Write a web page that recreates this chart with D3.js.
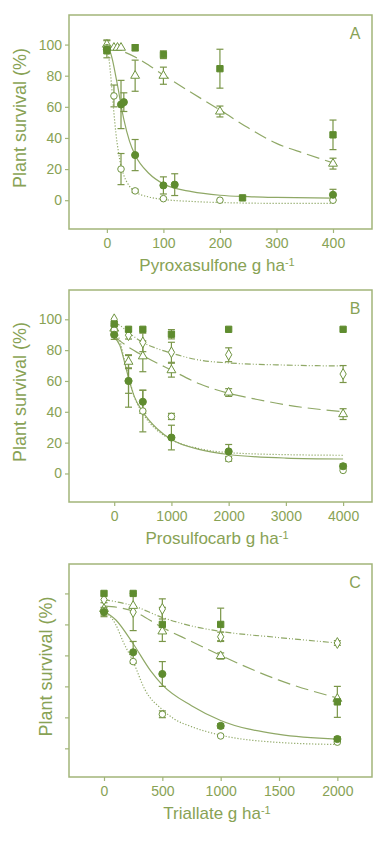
<!DOCTYPE html>
<html>
<head>
<meta charset="utf-8">
<script src="https://cdnjs.cloudflare.com/ajax/libs/d3/7.8.5/d3.min.js"></script>
<style>
  body { margin: 0; background: #fff; }
  text { font-family: "Liberation Sans", Arial, sans-serif; }
</style>
</head>
<body>
<div id="chart"></div>
<script>
// ---- data: [dose, survival %, error] ----
// Panel A - pyroxasulfone
const aFilledCircle = [[0, 97, 5.5], [25, 61.5, 15.5], [30, 63, 6], [50, 29, 10], [100, 9.5, 5.5], [120, 10, 7], [400, 3.5, 3.5]];
const aOpenCircle = [[0, 98, 0], [12.5, 67, 7], [25, 20, 10], [50, 6, 1], [100, 1, 0.5], [200, 0, 0], [400, 0, 0]];
const aOpenTriangle = [[0, 100, 3], [12.5, 98, 0], [18.75, 98, 0], [25, 98, 0], [50, 80, 10], [100, 80, 5.5], [200, 57, 3.5], [400, 23.5, 3.5]];
const aFilledSquare = [[0, 96, 0], [50, 98, 2], [100, 93.5, 2.5], [200, 84.5, 12.5], [240, 1.5, 0], [400, 42, 9.5]];
// fitted curves: [dose, survival %]
const aCurveSolid = [[0, 98], [5, 96], [10, 90], [15, 81], [20, 71.5], [25, 61], [30, 52], [40, 38], [50, 29], [75, 17], [100, 10.5], [150, 5.5], [200, 3.2], [250, 2.3], [300, 1.8], [400, 1.3]];
const aCurveDotted = [[0, 98], [4, 90], [8, 75], [12, 58], [16, 43], [20, 32], [25, 22], [30, 16], [40, 9], [50, 5.5], [75, 2], [100, 0.5], [150, -0.8], [200, -1.5], [300, -2], [400, -2]];
const aCurveDashed = [[0, 98], [25, 96], [50, 92], [75, 86.5], [100, 80.5], [150, 69], [200, 58], [250, 46.5], [300, 36.5], [350, 30], [400, 24]];

// Panel B - prosulfocarb
const bFilledCircle = [[0, 90, 3], [250, 60, 17], [500, 46.5, 7.5], [1000, 23.3, 8], [2000, 14.3, 4.5], [4000, 4.7, 1.5]];
const bOpenCircle = [[0, 93, 3], [250, 60, 8], [500, 40.5, 13.5], [1000, 37, 2], [2000, 9.5, 1.5], [4000, 2, 0]];
const bOpenTriangle = [[0, 94, 3], [250, 72.5, 4], [500, 76, 10], [1000, 67, 4.5], [2000, 52.5, 2.5], [4000, 38.5, 3.5]];
const bFilledSquare = [[0, 97, 0], [250, 93.5, 0], [500, 93.5, 0], [1000, 90.3, 3], [2000, 93.5, 0], [4000, 93.5, 0]];
const bOpenDiamond = [[0, 100, 0], [250, 89.7, 2.5], [500, 85, 6], [1000, 78.6, 6.5], [2000, 77, 4.5], [4000, 64.5, 5.5]];
const bCurveSolid = [[0, 88], [100, 83], [175, 73], [250, 62], [350, 50], [500, 40], [750, 29], [1000, 22], [1500, 15.5], [2000, 12.3], [3000, 10], [4000, 9.4]];
const bCurveDotted = [[0, 93], [100, 86], [175, 74], [250, 63], [350, 50], [500, 39], [750, 28], [1000, 22], [1500, 16], [2000, 13.5], [3000, 12.2], [4000, 11.8]];
const bCurveDashed = [[0, 89], [100, 86], [250, 82], [500, 76.5], [1000, 67], [1500, 58], [2000, 52], [2500, 48], [3000, 44.5], [4000, 40]];
const bCurveDashDot = [[0, 98], [100, 96], [250, 91.5], [500, 85], [750, 81], [1000, 78], [1500, 73.5], [2000, 71.7], [3000, 70.3], [4000, 69.7]];

// Panel C - triallate
const cFilledCircle = [[0, 88, 3], [250, 62, 7], [500, 48, 8], [1000, 14.5, 1.5], [2000, 6, 1.5]];
const cOpenCircle = [[0, 89, 0], [250, 56, 0], [500, 22, 2.2], [1000, 8, 0], [2000, 4, 0]];
const cOpenTriangle = [[0, 90, 4], [250, 92, 0], [500, 75.5, 0], [1000, 59.6, 2], [2000, 32, 0]];
const cFilledSquare = [[0, 100, 0], [250, 100, 0], [500, 80, 11], [1000, 80, 10.5], [2000, 30, 10]];
const cOpenDiamond = [[0, 96, 0], [250, 88, 12], [500, 90, 6.5], [1000, 72, 3], [2000, 68, 1.5]];
const cCurveSolid = [[0, 88.5], [100, 83], [250, 67.5], [400, 50], [500, 41], [750, 27.5], [1000, 18], [1500, 9], [2000, 6]];
const cCurveDotted = [[0, 89], [100, 80], [166, 68.5], [250, 56], [350, 38], [500, 25], [600, 19], [750, 14], [1000, 8.5], [1500, 3.8], [2000, 2.5]];
const cCurveDashed = [[0, 92], [250, 88.5], [500, 78], [750, 69], [1000, 60], [1500, 44], [2000, 32.5]];
const cCurveDashDot = [[0, 96], [250, 92], [500, 84.5], [750, 79], [1000, 75.5], [1500, 71.5], [2000, 68]];

const yTicks = [0, 20, 40, 60, 80, 100];
const xTicksA = [0, 100, 200, 300, 400];
const xTicksB = [0, 1000, 2000, 3000, 4000];
const xTicksC = [0, 500, 1000, 1500, 2000];

// ---- style ----
const textColor = '#88a255';
const frameColor = '#a2b579';
const markColor = '#5f8c2f';
const openStroke = '#6f9440';
const curveColor = '#8fa866';
const errColor = '#7a9648';

const width = 382;
const height = 844;

const svg = d3.select('#chart')
  .append('svg')
  .attr('width', width)
  .attr('height', height);

const symbols = {
  filledCircle: { type: d3.symbolCircle, size: 40, fill: markColor },
  openCircle: { type: d3.symbolCircle, size: 34, fill: '#fff' },
  openTriangle: { type: d3.symbolTriangle, size: 34, fill: '#fff' },
  filledSquare: { type: d3.symbolSquare, size: 40, fill: markColor },
  openDiamond: { type: d3.symbolDiamond, size: 34, fill: '#fff' },
};

const dashes = {
  solid: null,
  dotted: '1.2,1.8',
  dashed: '13,6',
  dashDot: '6,2,1,2,1,2',
};

const drawPanel = ({
  top, bottom, xDomain, xTicks, label, xTitle, showYLabels, yTitleX, series, curves,
}) => {
  const left = 69;
  const right = 372;
  const x = d3.scaleLinear().domain(xDomain).range([left, right]);
  const y = d3.scaleLinear().domain([-18.5, 119]).range([bottom, top]);
  const g = svg.append('g');

  g.append('rect')
    .attr('x', left)
    .attr('y', top)
    .attr('width', right - left)
    .attr('height', bottom - top)
    .attr('fill', 'none')
    .attr('stroke', frameColor)
    .attr('stroke-width', 1.5);

  const yG = g.append('g')
    .attr('transform', `translate(${left},0)`)
    .call(d3.axisLeft(y)
      .tickValues(yTicks)
      .tickSize(4)
      .tickSizeOuter(0)
      .tickPadding(3)
      .tickFormat(showYLabels ? d3.format('d') : () => ''));
  yG.select('.domain').remove();
  yG.selectAll('line').attr('stroke', frameColor).attr('stroke-width', 1.2);
  yG.selectAll('text')
    .attr('fill', textColor)
    .style('font-size', '14px')
    .style('font-family', '"Liberation Sans", Arial, sans-serif');

  const xG = g.append('g')
    .attr('transform', `translate(0,${bottom})`)
    .call(d3.axisBottom(x)
      .tickValues(xTicks)
      .tickSize(4)
      .tickSizeOuter(0)
      .tickPadding(5)
      .tickFormat(d3.format('d')));
  xG.select('.domain').remove();
  xG.selectAll('line').attr('stroke', frameColor).attr('stroke-width', 1.2);
  xG.selectAll('text')
    .attr('fill', textColor)
    .style('font-size', '14px')
    .style('font-family', '"Liberation Sans", Arial, sans-serif');

  // titles
  const yc = (top + bottom) / 2 - 4;
  g.append('text')
    .attr('transform', `translate(${yTitleX},${yc}) rotate(-90)`)
    .attr('dy', '0.35em')
    .attr('text-anchor', 'middle')
    .attr('fill', textColor)
    .style('font-size', '18px')
    .text('Plant survival (%)');

  const xt = g.append('text')
    .attr('x', 217)
    .attr('y', bottom + 42)
    .attr('text-anchor', 'middle')
    .attr('fill', textColor)
    .style('font-size', '17px')
    .text(xTitle);
  xt.append('tspan')
    .attr('dy', '-0.5em')
    .style('font-size', '11px')
    .text('-1');

  g.append('text')
    .attr('x', 355)
    .attr('y', top + 24)
    .attr('text-anchor', 'middle')
    .attr('fill', textColor)
    .style('font-size', '16px')
    .text(label);

  // curves
  const line = d3.line()
    .x(d => x(d[0]))
    .y(d => y(d[1]))
    .curve(d3.curveMonotoneX);
  curves.forEach(c => {
    g.append('path')
      .datum(c.data)
      .attr('d', line)
      .attr('fill', 'none')
      .attr('stroke', curveColor)
      .attr('stroke-width', 1.2)
      .attr('stroke-dasharray', dashes[c.style]);
  });

  // error bars
  series.forEach(s => {
    const withErr = s.data.filter(d => d[2] > 0);
    const eg = g.append('g')
      .attr('stroke', errColor)
      .attr('stroke-width', 1.2);
    eg.selectAll('line.v')
      .data(withErr)
      .enter()
      .append('line')
      .attr('x1', d => x(d[0]))
      .attr('x2', d => x(d[0]))
      .attr('y1', d => y(d[1] - d[2]))
      .attr('y2', d => y(d[1] + d[2]));
    [-1, 1].forEach(sign => {
      eg.selectAll(null)
        .data(withErr)
        .enter()
        .append('line')
        .attr('x1', d => x(d[0]) - 3.5)
        .attr('x2', d => x(d[0]) + 3.5)
        .attr('y1', d => y(d[1] + sign * d[2]))
        .attr('y2', d => y(d[1] + sign * d[2]));
    });
  });

  // markers
  series.forEach(s => {
    const sym = symbols[s.kind];
    g.selectAll(null)
      .data(s.data)
      .enter()
      .append('path')
      .attr('d', d3.symbol().type(sym.type).size(sym.size))
      .attr('transform', d => `translate(${x(d[0])},${y(d[1])})`)
      .attr('fill', sym.fill)
      .attr('stroke', sym.fill === '#fff' ? openStroke : markColor)
      .attr('stroke-width', 1);
  });
};

drawPanel({
  top: 15,
  bottom: 229,
  xDomain: [-67, 469],
  xTicks: xTicksA,
  label: 'A',
  xTitle: 'Pyroxasulfone g ha',
  showYLabels: true,
  yTitleX: 20,
  curves: [
    { data: aCurveDashed, style: 'dashed' },
    { data: aCurveDotted, style: 'dotted' },
    { data: aCurveSolid, style: 'solid' },
  ],
  series: [
    { data: aOpenTriangle, kind: 'openTriangle' },
    { data: aOpenCircle, kind: 'openCircle' },
    { data: aFilledSquare, kind: 'filledSquare' },
    { data: aFilledCircle, kind: 'filledCircle' },
  ],
});

drawPanel({
  top: 290,
  bottom: 502,
  xDomain: [-790, 4505],
  xTicks: xTicksB,
  label: 'B',
  xTitle: 'Prosulfocarb g ha',
  showYLabels: true,
  yTitleX: 20,
  curves: [
    { data: bCurveDashDot, style: 'dashDot' },
    { data: bCurveDashed, style: 'dashed' },
    { data: bCurveDotted, style: 'dotted' },
    { data: bCurveSolid, style: 'solid' },
  ],
  series: [
    { data: bOpenDiamond, kind: 'openDiamond' },
    { data: bOpenTriangle, kind: 'openTriangle' },
    { data: bOpenCircle, kind: 'openCircle' },
    { data: bFilledSquare, kind: 'filledSquare' },
    { data: bFilledCircle, kind: 'filledCircle' },
  ],
});

drawPanel({
  top: 564,
  bottom: 777,
  xDomain: [-300, 2297],
  xTicks: xTicksC,
  label: 'C',
  xTitle: 'Triallate g ha',
  showYLabels: false,
  yTitleX: 46,
  curves: [
    { data: cCurveDashDot, style: 'dashDot' },
    { data: cCurveDashed, style: 'dashed' },
    { data: cCurveDotted, style: 'dotted' },
    { data: cCurveSolid, style: 'solid' },
  ],
  series: [
    { data: cOpenDiamond, kind: 'openDiamond' },
    { data: cOpenTriangle, kind: 'openTriangle' },
    { data: cOpenCircle, kind: 'openCircle' },
    { data: cFilledSquare, kind: 'filledSquare' },
    { data: cFilledCircle, kind: 'filledCircle' },
  ],
});
</script>
</body>
</html>
